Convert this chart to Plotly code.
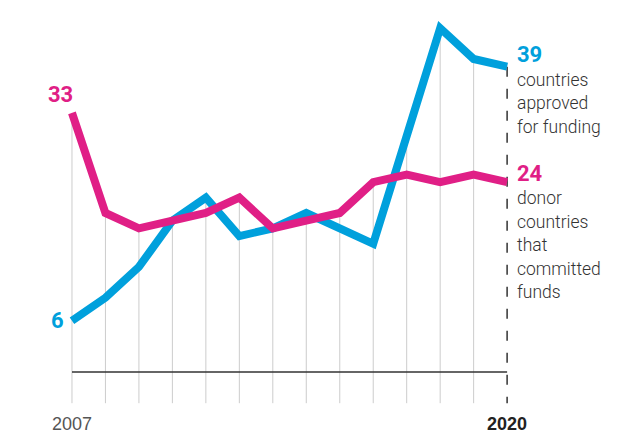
import plotly.graph_objects as go

# Years and the two series
years = list(range(2007, 2021))
approved = [6, 9, 13, 19, 22, 17, 18, 20, 18, 16, 30, 44, 40, 39]
donors = [33, 20, 18, 19, 20, 22, 18, 19, 20, 24, 25, 24, 25, 24]

approved_text = ["countries", "approved", "for funding"]
donors_text = ["donor", "countries", "that", "committed", "funds"]

BLUE = "#00a0dc"
PINK = "#e01f86"
GRID = "#cccccc"
DARK = "#333333"

AXIS_Y = -0.65      # horizontal baseline
GRID_BOTTOM = -4.7  # where the year ticks end

fig = go.Figure()

# vertical year guides, from the higher series down past the baseline
shapes = []
for i, yr in enumerate(years):
    top = max(approved[i], donors[i])
    if yr == years[-1]:
        shapes.append(dict(type="line", xref="x", yref="y", x0=yr, x1=yr,
                           y0=top, y1=GRID_BOTTOM,
                           line=dict(color=DARK, width=1.5, dash="10px,12px"),
                           layer="below"))
    else:
        shapes.append(dict(type="line", xref="x", yref="y", x0=yr, x1=yr,
                           y0=top, y1=GRID_BOTTOM,
                           line=dict(color=GRID, width=1), layer="below"))
shapes.append(dict(type="line", xref="x", yref="y", x0=years[0], x1=years[-1],
                   y0=AXIS_Y, y1=AXIS_Y, line=dict(color=DARK, width=1.3),
                   layer="below"))

fig.add_trace(go.Scatter(x=years, y=approved, mode="lines",
                         line=dict(color=BLUE, width=8), hoverinfo="skip"))
fig.add_trace(go.Scatter(x=years, y=donors, mode="lines",
                         line=dict(color=PINK, width=8), hoverinfo="skip"))

num_font = dict(family="Roboto", size=22, weight=700)
txt_font = dict(family="Roboto", size=17.5, color=DARK, weight=300)

ann = []
# start values
ann.append(dict(x=years[0], y=donors[0], text=str(donors[0]), showarrow=False,
                xanchor="right", yanchor="middle", xshift=3, yshift=18,
                font=dict(num_font, color=PINK)))
ann.append(dict(x=years[0], y=approved[0], text=str(approved[0]), showarrow=False,
                xanchor="right", yanchor="middle", xshift=-6, yshift=0,
                font=dict(num_font, color=BLUE)))
# end values with descriptions
ann.append(dict(x=years[-1], y=approved[-1], text=str(approved[-1]), showarrow=False,
                xanchor="left", yanchor="middle", xshift=8, yshift=12,
                font=dict(num_font, color=BLUE)))
for k, line in enumerate(approved_text):
    ann.append(dict(x=years[-1], y=approved[-1], text=line, showarrow=False,
                    xanchor="left", yanchor="middle", xshift=8,
                    yshift=-13 - 23.5 * k, font=txt_font))
ann.append(dict(x=years[-1], y=donors[-1], text=str(donors[-1]), showarrow=False,
                xanchor="left", yanchor="middle", xshift=8, yshift=9,
                font=dict(num_font, color=PINK)))
for k, line in enumerate(donors_text):
    ann.append(dict(x=years[-1], y=donors[-1], text=line, showarrow=False,
                    xanchor="left", yanchor="middle", xshift=8,
                    yshift=-16 - 23.5 * k, font=txt_font))
# first and last year labels
ann.append(dict(x=years[0], y=-7.4, text=str(years[0]), showarrow=False,
                xanchor="center", yanchor="middle",
                font=dict(family="Liberation Sans, Arial", size=18, color="#555555")))
ann.append(dict(x=years[-1], y=-7.4, text=str(years[-1]), showarrow=False,
                xanchor="center", yanchor="middle",
                font=dict(family="Liberation Sans, Arial", size=18, color="#222222",
                          weight=700)))

fig.update_layout(
    width=641, height=433,
    margin=dict(l=0, r=0, t=0, b=0),
    paper_bgcolor="white", plot_bgcolor="white",
    showlegend=False,
    xaxis=dict(range=[2004.85, 2024.0], visible=False, fixedrange=True),
    yaxis=dict(range=[-8.57, 47.66], visible=False, fixedrange=True),
    shapes=shapes,
    annotations=ann,
)

fig.write_html("out.html", config={"displayModeBar": False})
